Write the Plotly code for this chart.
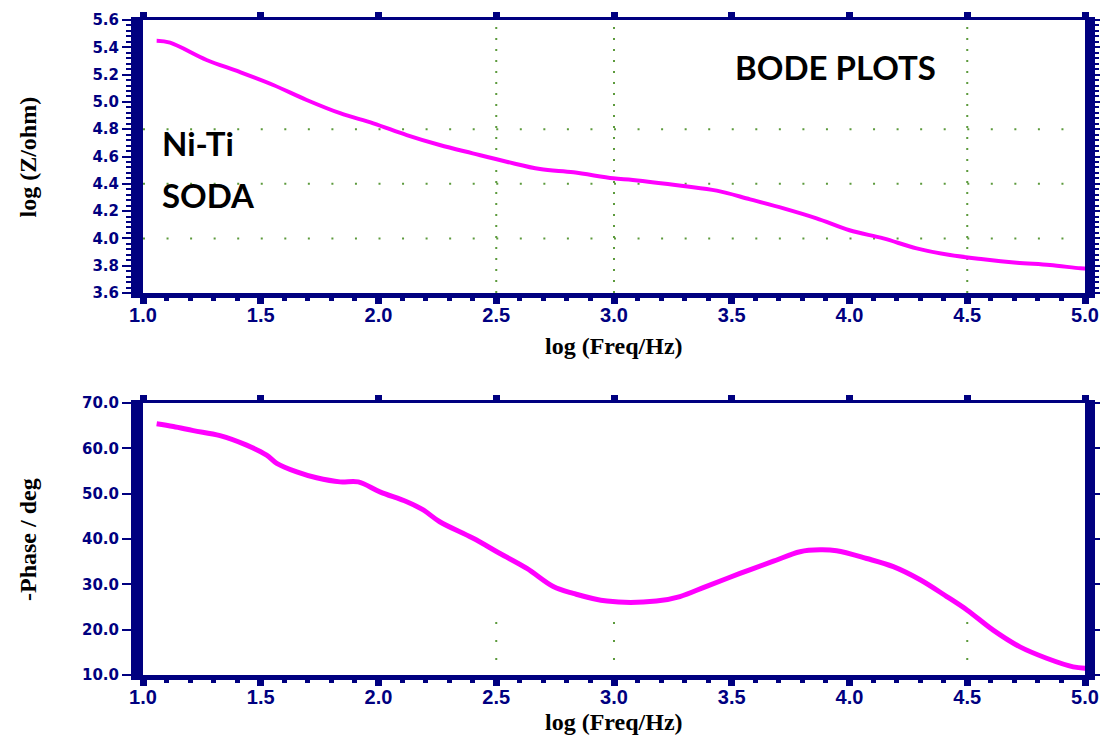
import plotly.graph_objects as go

# ---- data ----
logf_mod = [1.058, 1.115, 1.27, 1.41, 1.553, 1.695, 1.837, 1.978, 2.12, 2.26, 2.40, 2.544,
            2.686, 2.828, 2.997, 3.08, 3.294, 3.436, 3.578, 3.72, 3.86, 4.00, 4.144, 4.285,
            4.427, 4.568, 4.71, 4.851, 4.98, 5.0]
log_z = [5.448, 5.434, 5.307, 5.22, 5.124, 5.014, 4.917, 4.843, 4.757, 4.684, 4.623, 4.562,
         4.508, 4.484, 4.44, 4.428, 4.384, 4.35, 4.286, 4.22, 4.147, 4.06, 4.0, 3.927,
         3.878, 3.847, 3.822, 3.805, 3.781, 3.78]

logf_phase = [1.058, 1.129, 1.214, 1.327, 1.44, 1.525, 1.568, 1.653, 1.737, 1.837, 1.914,
              2.006, 2.12, 2.19, 2.26, 2.40, 2.516, 2.63, 2.742, 2.827, 2.97, 3.18, 3.28,
              3.39, 3.535, 3.677, 3.79, 3.875, 3.945, 4.073, 4.186, 4.30, 4.413, 4.50,
              4.61, 4.724, 4.837, 4.95, 5.007]
neg_phase = [65.4, 64.8, 63.9, 62.8, 60.7, 58.5, 56.7, 54.8, 53.5, 52.6, 52.6,
             50.4, 48.2, 46.4, 43.8, 40.2, 36.8, 33.5, 29.5, 28.0, 26.3, 26.3, 27.3,
             29.5, 32.4, 35.1, 37.2, 37.6, 37.4, 35.7, 33.9, 31.0, 27.3, 24.3,
             19.9, 16.2, 13.7, 11.8, 11.5]

x_range = [1.0, 5.0]
z_range = [3.6, 5.6]
phase_range = [10.0, 70.0]
grid_x_top = [2.5, 3.0, 4.5]
grid_y_top = [4.0, 4.4, 4.8]
grid_x_bottom = [2.5, 3.0, 4.5]
grid_seg_bottom = [13.3, 22.2]

NAVY = "#000080"
MAG = "#ff00ff"
GRID = "#5c9a3c"

fig = go.Figure()
fig.add_trace(go.Scatter(x=logf_mod, y=log_z, mode="lines", line=dict(color=MAG, width=4, shape="spline"),
                         xaxis="x", yaxis="y", showlegend=False, hoverinfo="skip"))
fig.add_trace(go.Scatter(x=logf_phase, y=neg_phase, mode="lines", line=dict(color=MAG, width=5, shape="spline"),
                         xaxis="x2", yaxis="y2", showlegend=False, hoverinfo="skip"))
# invisible copies so the mirrored frame axes (top / right) get drawn
fig.add_trace(go.Scatter(x=logf_mod, y=log_z, mode="lines", opacity=0, xaxis="x3", yaxis="y3",
                         showlegend=False, hoverinfo="skip"))
fig.add_trace(go.Scatter(x=logf_phase, y=neg_phase, mode="lines", opacity=0, xaxis="x4", yaxis="y4",
                         showlegend=False, hoverinfo="skip"))

top_dom = [0.5832, 1.0]
bot_dom = [0.0, 0.4153]

xtickfont = dict(family="Liberation Sans", size=20, color=NAVY, weight="bold")
ytickfont = dict(family="DejaVu Sans", size=15, color=NAVY, weight="bold")


def xbottom(anchor):
    return dict(range=x_range, dtick=0.5, tick0=1.0, tickformat=".1f", showgrid=False, zeroline=False,
                showline=True, linecolor=NAVY, linewidth=5, ticks="outside", ticklen=6, tickwidth=7,
                tickcolor=NAVY, tickfont=xtickfont, anchor=anchor, domain=[0, 1], ticklabelstandoff=-6,
                minor=dict(dtick=0.1, tick0=1.0, ticks="outside", ticklen=3, tickwidth=5, tickcolor=NAVY, showgrid=False))


def xtop(overlay, anchor):
    return dict(range=x_range, dtick=0.5, tick0=1.0, showgrid=False, zeroline=False, showticklabels=False,
                showline=True, linecolor=NAVY, linewidth=3, ticks="outside", ticklen=5, tickwidth=7,
                tickcolor=NAVY, overlaying=overlay, side="top", anchor=anchor)


def yright(rng, dt, overlay, anchor, minor_dt=None):
    d = dict(range=rng, dtick=dt, overlaying=overlay, side="right", anchor=anchor,
             showgrid=False, zeroline=False, showticklabels=False, showline=True, linecolor=NAVY, linewidth=10,
             ticks="outside", ticklen=6, tickwidth=2, tickcolor=NAVY)
    if minor_dt:
        d["minor"] = dict(dtick=minor_dt, ticks="outside", ticklen=4, tickwidth=2, tickcolor=NAVY, showgrid=False)
    return d


fig.update_layout(
    width=1100, height=742, autosize=False,
    margin=dict(l=143, r=15, t=20, b=67, autoexpand=False),
    paper_bgcolor="white", plot_bgcolor="white",
    xaxis=xbottom("y"),
    xaxis2=xbottom("y2"),
    xaxis3=xtop("x", "y"),
    xaxis4=xtop("x2", "y2"),
    yaxis=dict(range=z_range, dtick=0.2, tick0=3.6, tickformat=".1f", domain=top_dom, anchor="x",
               showgrid=False, zeroline=False, showline=True, linecolor=NAVY, linewidth=12,
               ticks="outside", ticklen=9, tickwidth=2, tickcolor=NAVY, tickfont=ytickfont,
               minor=dict(dtick=0.04, ticks="outside", ticklen=5, tickwidth=2, tickcolor=NAVY, showgrid=False)),
    yaxis3=yright(z_range, 0.2, "y", "x", 0.04),
    yaxis2=dict(range=phase_range, dtick=10, tick0=10, tickformat=".1f", domain=bot_dom, anchor="x2",
                showgrid=False, zeroline=False, showline=True, linecolor=NAVY, linewidth=12,
                ticks="outside", ticklen=9, tickwidth=2, tickcolor=NAVY, tickfont=ytickfont),
    yaxis4=yright(phase_range, 10, "y2", "x2"),
)

shapes = []
for gx in grid_x_top:
    shapes.append(dict(type="line", xref="x", yref="y", x0=gx, x1=gx, y0=z_range[0], y1=z_range[1],
                       line=dict(color=GRID, width=2, dash="2px,9px"), layer="below"))
for gy in grid_y_top:
    shapes.append(dict(type="line", xref="x", yref="y", x0=x_range[0], x1=x_range[1], y0=gy, y1=gy,
                       line=dict(color=GRID, width=2, dash="2px,21.55px"), layer="below"))
for gx in grid_x_bottom:
    shapes.append(dict(type="line", xref="x2", yref="y2", x0=gx, x1=gx, y0=grid_seg_bottom[0], y1=grid_seg_bottom[1],
                       line=dict(color=GRID, width=2, dash="2px,16px"), layer="below"))
fig.update_layout(shapes=shapes)

label_font = dict(family="Lato", size=33, color="black", weight="bold")
title_font = dict(family="Liberation Serif", size=24, color="black", weight="bold")
annotations = [
    dict(text="BODE PLOTS", x=3.94, y=5.256, xref="x", yref="y", showarrow=False, font=label_font,
         xanchor="center", yanchor="middle"),
    dict(text="Ni-Ti", x=1.072, y=4.70, xref="x", yref="y", showarrow=False, font=label_font,
         xanchor="left", yanchor="middle"),
    dict(text="SODA", x=1.072, y=4.318, xref="x", yref="y", showarrow=False, font=label_font,
         xanchor="left", yanchor="middle"),
    dict(text="log (Freq/Hz)", x=0.5, y=0.5023, xref="paper", yref="paper", showarrow=False, font=title_font,
         xanchor="center", yanchor="middle"),
    dict(text="log (Freq/Hz)", x=0.5, y=-0.0718, xref="paper", yref="paper", showarrow=False, font=title_font,
         xanchor="center", yanchor="middle"),
    dict(text="log (Z/ohm)", x=-0.1221, y=0.7916, xref="paper", yref="paper", showarrow=False, font=title_font,
         textangle=-90, xanchor="center", yanchor="middle"),
    dict(text="-Phase / deg", x=-0.1221, y=0.2076, xref="paper", yref="paper", showarrow=False, font=title_font,
         textangle=-90, xanchor="center", yanchor="middle"),
]
fig.update_layout(annotations=annotations)

fig.write_html("out.html", config={"displayModeBar": False, "responsive": False},
               post_script="document.body.style.margin='0';document.body.style.overflow='hidden';")
